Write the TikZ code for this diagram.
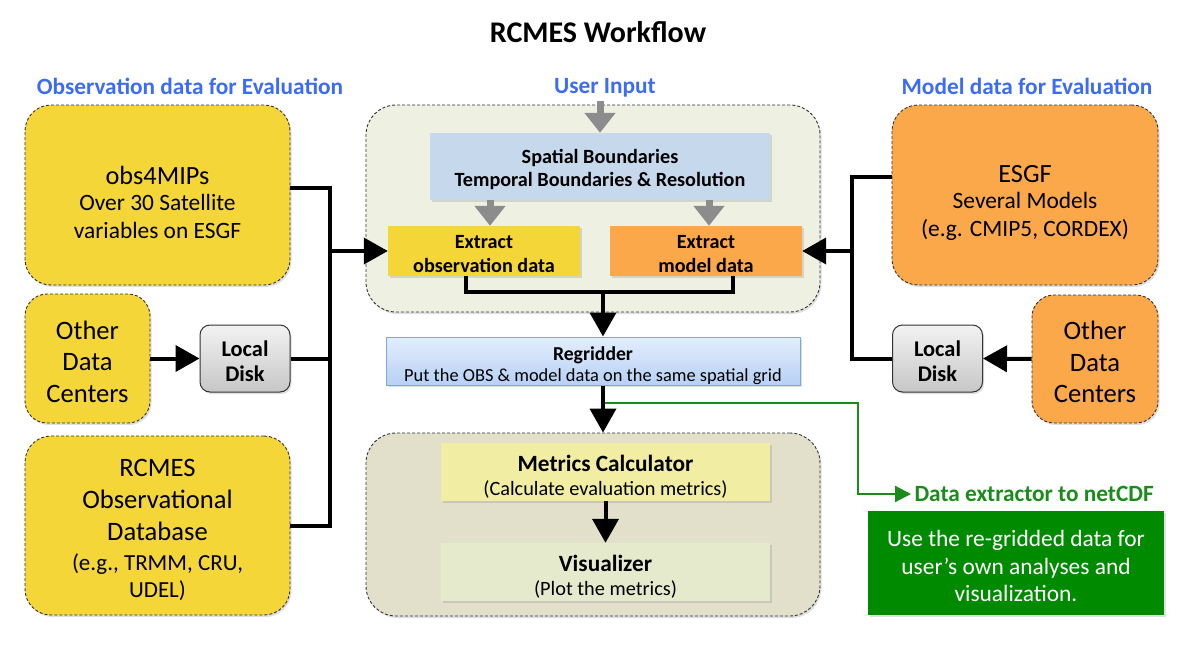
\documentclass[tikz,border=0pt]{standalone}
\usepackage{fontspec}
\setmainfont{Carlito}
\usetikzlibrary{arrows.meta,shadows}

\definecolor{obsyellow}{RGB}{245,214,56}
\definecolor{modorange}{RGB}{251,168,74}
\definecolor{headblue}{RGB}{60,108,245}
\definecolor{inputbg}{RGB}{238,240,226}
\definecolor{spatialbg}{RGB}{198,216,236}
\definecolor{metricbg}{RGB}{226,223,203}
\definecolor{calcbg}{RGB}{241,237,163}
\definecolor{visbg}{RGB}{228,234,203}
\definecolor{netgreen}{RGB}{0,138,0}
\definecolor{linegreen}{RGB}{26,140,26}
\definecolor{regridtop}{RGB}{228,238,252}
\definecolor{regridbot}{RGB}{182,208,245}
\definecolor{regridline}{RGB}{127,166,224}

\newcommand{\fs}[2]{\fontsize{#1}{#2}\selectfont}
% pushes a node's lines down a little
\newcommand{\lift}[1]{\rule{0pt}{\dimexpr0.75em+#1pt\relax}}

\begin{document}
\begin{tikzpicture}[x=1pt,y=-1pt,
	softshadow/.style={drop shadow={opacity=0.25,shadow xshift=1.5pt,shadow yshift=-2pt}},
	srcbox/.style={draw=black!80,dash pattern=on 3pt off 2pt,line width=0.9pt,rounded corners=26pt,align=center,softshadow},
	groupbox/.style={draw=black!80,dash pattern=on 3pt off 2pt,line width=0.9pt,rounded corners=30pt,softshadow},
	diskbox/.style={draw=black!80,line width=1pt,rounded corners=10pt,top color=black!5,bottom color=black!22,align=center,font=\bfseries\fs{22.4}{25},minimum width=90pt,minimum height=67pt,softshadow},
	stepbox/.style={align=center,inner sep=0pt,softshadow},
	heading/.style={text=headblue,font=\bfseries\fs{23.3}{26}},
	blk/.style={line width=4pt},
	blkarrow/.style={line width=4pt,-{Triangle[length=24pt,width=26pt]}},
	grayarrow/.style={line width=7pt,draw=black!45,-{Triangle[length=20pt,width=30pt]}},
	greenarrow/.style={line width=2.2pt,draw=linegreen,-{Triangle[length=16pt,width=16pt]}}]
	\useasboundingbox (0,0) rectangle (1200,656);

	% Title and headings
	\node (title) at (598,32) {\bfseries\fs{30}{34}RCMES Workflow};
	\node[heading] (obshead) at (190,86) {Observation data for Evaluation};
	\node[heading] (userhead) at (605,88) {User Input};
	\node[heading] (modhead) at (1027,86) {Model data for Evaluation};

	% Observation sources
	\node[srcbox,fill=obsyellow,minimum width=265pt,minimum height=180pt,font=\fs{23.4}{28.5}] (obs4) at (157.5,195)
		{{\fs{26.3}{28.5}\lift{14}obs4MIPs}\\[-3pt]Over 30 Satellite\\variables on ESGF};
	\node[srcbox,fill=obsyellow,rounded corners=22pt,minimum width=125pt,minimum height=129pt,font=\fs{26.6}{31.5}] (otherl) at (87.5,358.5)
		{\lift{5}Other\\Data\\Centers};
	\node[diskbox] (diskl) at (245,358.5) {\lift{5}Local\\Disk};
	\node[srcbox,fill=obsyellow,minimum width=265pt,minimum height=179pt,font=\fs{26.6}{32}] (obsdb) at (157.5,525.5)
		{\lift{6}RCMES\\Observational\\Database\\[-2pt]{\fs{23}{28}(e.g., TRMM, CRU,}\\[-5pt]{\fs{23}{28}UDEL)}};

	% Model sources
	\node[srcbox,fill=modorange,minimum width=266pt,minimum height=180pt,font=\fs{23.4}{28.5}] (esgf) at (1025,195)
		{{\fs{26.3}{28.5}\lift{14}ESGF}\\[-3pt]Several Models\\(e.g. CMIP5, CORDEX)};
	\node[srcbox,fill=modorange,rounded corners=22pt,minimum width=126pt,minimum height=128pt,font=\fs{26.6}{31.5}] (otherr) at (1095,359)
		{\lift{5}Other\\Data\\Centers};
	\node[diskbox] (diskr) at (937.5,358.5) {\lift{5}Local\\Disk};

	% User input group
	\node[groupbox,fill=inputbg,minimum width=454pt,minimum height=207pt] (inputgrp) at (593,208.5) {};
	\node[stepbox,fill=spatialbg,minimum width=340pt,minimum height=67pt,font=\bfseries\fs{20.2}{23}] (spatial) at (600,166.5)
		{\lift{6}Spatial Boundaries\\Temporal Boundaries \& Resolution};
	\node[stepbox,fill=obsyellow,minimum width=192pt,minimum height=50pt,font=\bfseries\fs{20.2}{24}] (obsx) at (484,251)
		{\lift{4}Extract\\observation data};
	\node[stepbox,fill=modorange,minimum width=192pt,minimum height=50pt,font=\bfseries\fs{20.2}{24}] (modx) at (706,251)
		{\lift{4}Extract\\model data};

	% Regridder
	\node[stepbox,draw=regridline,line width=1pt,top color=regridtop,bottom color=regridbot,minimum width=414pt,minimum height=48pt,font=\fs{18.4}{21}] (regrid) at (593,361)
		{{\bfseries\fs{19.7}{21}\lift{9}Regridder}\\Put the OBS \& model data on the same spatial grid};

	% Metrics group
	\node[groupbox,fill=metricbg,minimum width=454pt,minimum height=183pt] (metricgrp) at (593,524.5) {};
	\node[stepbox,fill=calcbg,minimum width=329pt,minimum height=58pt,font=\fs{20.3}{24}] (calc) at (605.5,472)
		{{\bfseries\fs{23.3}{24}\lift{8}Metrics Calculator}\\(Calculate evaluation metrics)};
	\node[stepbox,fill=visbg,minimum width=329pt,minimum height=58pt,font=\fs{20.3}{24}] (vis) at (605.5,572)
		{{\bfseries\fs{23.3}{24}\lift{9}Visualizer}\\(Plot the metrics)};

	% netCDF output
	\node[anchor=west,text=linegreen,font=\bfseries\fs{23.3}{26}] (nethead) at (911,494) {Data extractor to netCDF};
	\node[stepbox,fill=netgreen,text=white,minimum width=296pt,minimum height=104pt,font=\fs{23.4}{27.5}] (netbox) at (1016,563)
		{\lift{5}Use the re-gridded data for\\user’s own analyses and\\visualization.};

	% Join points
	\coordinate (lbus) at (330,188);
	\coordinate (rbus) at (852,177);
	\coordinate (join) at (603,292);
	\coordinate (gsplit) at (605,403);
	\coordinate (gbend) at (858,494);

	% User input arrows
	\draw[grayarrow] (spatial.north |- userhead.south) -- (spatial.north);
	\draw[grayarrow] (spatial.south -| 490,0) -- (obsx.north -| 490,0);
	\draw[grayarrow] (spatial.south -| 709,0) -- (modx.north -| 709,0);

	% Left side lines
	\draw[blk] ([yshift=7pt]obs4.east) -- (lbus) |- (obsdb.east);
	\draw[blk] (diskl.east) -- (diskl.east -| lbus);
	\draw[blkarrow] (otherl.east) -- (diskl.west);
	\draw[blkarrow] (lbus |- obsx.west) -- (obsx.west);

	% Right side lines
	\draw[blk] ([yshift=18pt]esgf.west) -- (rbus) |- (diskr.west);
	\draw[blkarrow] (otherr.west) -- (diskr.east);
	\draw[blkarrow] (rbus |- modx.east) -- (modx.east);

	% Extracted data to regridder
	\draw[blk] ([xshift=-18pt]obsx.south) |- (join) -| ([xshift=27pt]modx.south);
	\draw[blkarrow] (join) -- (join |- regrid.north);

	% Regridder to metrics
	\draw[blkarrow] (join |- regrid.south) -- (join |- metricgrp.north);
	\draw[blkarrow] (calc.south) -- (vis.north);

	% Green branch
	\draw[greenarrow] (gsplit) -| (gbend) -- (nethead.west);
\end{tikzpicture}
\end{document}
